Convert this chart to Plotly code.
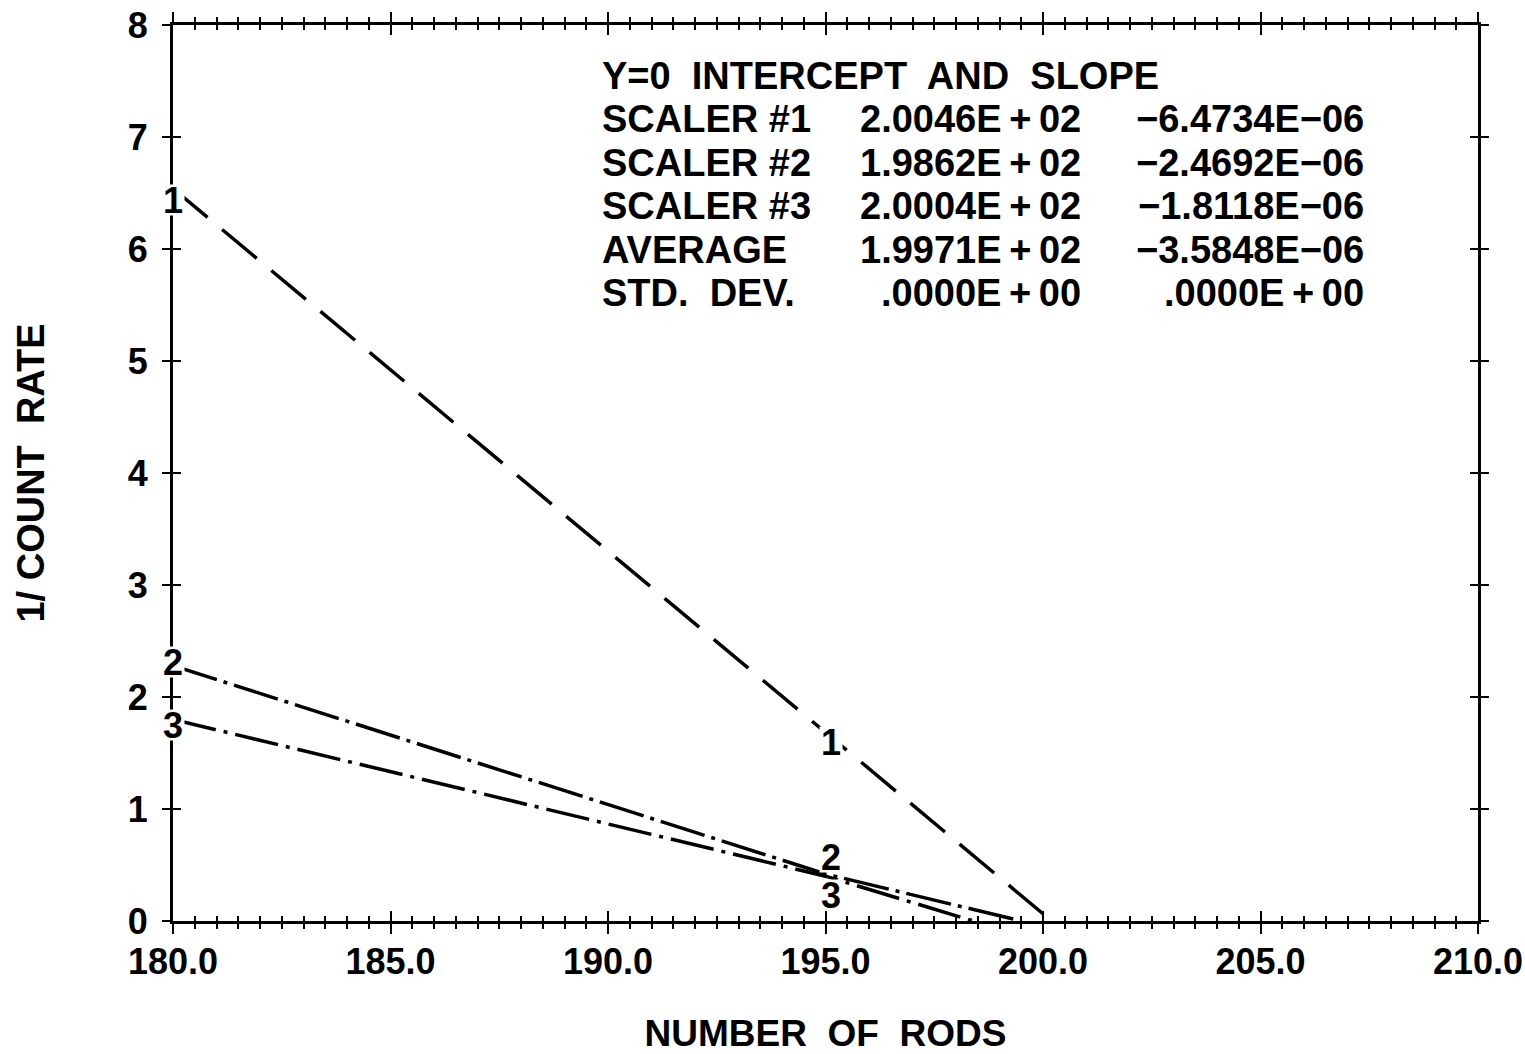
import plotly.graph_objects as go

# ---- data ----
rods_1 = [180.0, 195.0, 200.2]
rate_1 = [6.54, 1.68, 0.0]
rods_2 = [180.0, 195.0, 199.5]
rate_2 = [2.28, 0.42, 0.0]
rods_3 = [180.0, 195.0, 198.4]
rate_3 = [1.80, 0.40, 0.0]

x_ticks = [180, 185, 190, 195, 200, 205, 210]
x_tick_labels = ["180.0", "185.0", "190.0", "195.0", "200.0", "205.0", "210.0"]
y_ticks = [0, 1, 2, 3, 4, 5, 6, 7, 8]

# curve labels: (text, x, y)
curve_label_text = ["1", "1", "2", "3", "2", "3"]
curve_label_x = [180.0, 195.12, 180.0, 180.0, 195.13, 195.13]
curve_label_y = [6.44, 1.60, 2.31, 1.75, 0.57, 0.23]

table_title = "Y=0  INTERCEPT  AND  SLOPE"
table_rows = ["SCALER #1", "SCALER #2", "SCALER #3", "AVERAGE", "STD.  DEV."]
table_intercepts = ["2.0046E\u2009+\u200902", "1.9862E\u2009+\u200902", "2.0004E\u2009+\u200902",
                    "1.9971E\u2009+\u200902", ".0000E\u2009+\u200900"]
table_slopes = ["\u22126.4734E\u221206", "\u22122.4692E\u221206", "\u22121.8118E\u221206",
                "\u22123.5848E\u221206", ".0000E\u2009+\u200900"]

FONT = "Liberation Sans, Arial, sans-serif"

fig = go.Figure()
fig.add_trace(go.Scatter(x=rods_1, y=rate_1, mode="lines",
                         line=dict(color="black", width=3.5, dash="45px,19px"),
                         hoverinfo="skip", showlegend=False))
fig.add_trace(go.Scatter(x=rods_2, y=rate_2, mode="lines",
                         line=dict(color="black", width=3.5, dash="46px,7px,4px,7px"),
                         hoverinfo="skip", showlegend=False))
fig.add_trace(go.Scatter(x=rods_3, y=rate_3, mode="lines",
                         line=dict(color="black", width=3.5, dash="44px,8px,4px,8px"),
                         hoverinfo="skip", showlegend=False))
# invisible trace to activate the overlay axes (inner half of crossing ticks)
fig.add_trace(go.Scatter(x=[x_ticks[0]], y=[y_ticks[0]], xaxis="x2", yaxis="y2",
                         mode="markers", marker=dict(opacity=0), hoverinfo="skip",
                         showlegend=False))

axis_common = dict(showgrid=False, zeroline=False, linecolor="black",
                   tickcolor="black", tickwidth=2, automargin=False)

fig.update_layout(
    width=1525, height=1054,
    margin=dict(l=173, r=47, t=25, b=133),
    paper_bgcolor="white", plot_bgcolor="white",
    font=dict(family=FONT, color="black", size=36),
    xaxis=dict(range=[180, 210], tickvals=x_ticks, ticktext=x_tick_labels,
               ticks="outside", ticklen=10, mirror="ticks", showline=True, linewidth=3,
               minor=dict(dtick=0.5, ticks="outside", ticklen=5, tickwidth=2, tickcolor="black"),
               tickfont=dict(size=36, family=FONT, weight="bold"),
               ticklabelstandoff=-3, ticklabeloverflow="allow",
               title=dict(text="NUMBER  OF  RODS", standoff=44,
                          font=dict(size=37, family=FONT, weight="bold")),
               **axis_common),
    yaxis=dict(range=[0, 8], tickvals=y_ticks, ticks="outside", ticklen=8, mirror="ticks",
               showline=True, linewidth=3,
               tickfont=dict(size=36, family=FONT, weight="bold"),
               ticklabelstandoff=7, ticklabeloverflow="allow",
               title=dict(text="1/ COUNT  RATE", standoff=72,
                          font=dict(size=38, family=FONT, weight="bold")),
               **axis_common),
    xaxis2=dict(range=[180, 210], overlaying="x", anchor="y2", tickvals=x_ticks,
                ticks="inside", ticklen=10, mirror="ticks", showline=False,
                showticklabels=False,
                minor=dict(dtick=0.5, ticks="inside", ticklen=5, tickwidth=2, tickcolor="black"),
                **axis_common),
    yaxis2=dict(range=[0, 8], overlaying="y", anchor="x2", tickvals=y_ticks,
                ticks="inside", ticklen=8, mirror="ticks", showline=False,
                showticklabels=False, **axis_common),
)

# curve labels (opaque, they interrupt the lines as in the original)
for t, cx, cy in zip(curve_label_text, curve_label_x, curve_label_y):
    fig.add_annotation(x=cx, y=cy, xref="x", yref="y", text=t, showarrow=False,
                       bgcolor="white", borderpad=0, height=30, width=22,
                       font=dict(size=36, family=FONT, weight="bold"))

# results table
row_y = [0.943, 0.895, 0.8465, 0.798, 0.749, 0.701]
col_label_x, col_icpt_x, col_slope_x = 189.81, 200.92, 207.43
tfont = dict(size=38, family=FONT, weight="bold")
fig.add_annotation(x=col_label_x, y=row_y[0], xref="x", yref="paper", text=table_title,
                   showarrow=False, xanchor="left", yanchor="middle", font=tfont)
for i, (lab, ic, sl) in enumerate(zip(table_rows, table_intercepts, table_slopes)):
    yy = row_y[i + 1]
    fig.add_annotation(x=col_label_x, y=yy, xref="x", yref="paper", text=lab,
                       showarrow=False, xanchor="left", yanchor="middle", font=tfont)
    fig.add_annotation(x=col_icpt_x, y=yy, xref="x", yref="paper", text=ic,
                       showarrow=False, xanchor="right", yanchor="middle", font=tfont)
    fig.add_annotation(x=col_slope_x, y=yy, xref="x", yref="paper", text=sl,
                       showarrow=False, xanchor="right", yanchor="middle", font=tfont)

# remove the default page margin so the figure fills the 1525x1054 window exactly
fig.write_html("out.html", config={"displayModeBar": False},
               post_script="document.body.style.margin='0';")
